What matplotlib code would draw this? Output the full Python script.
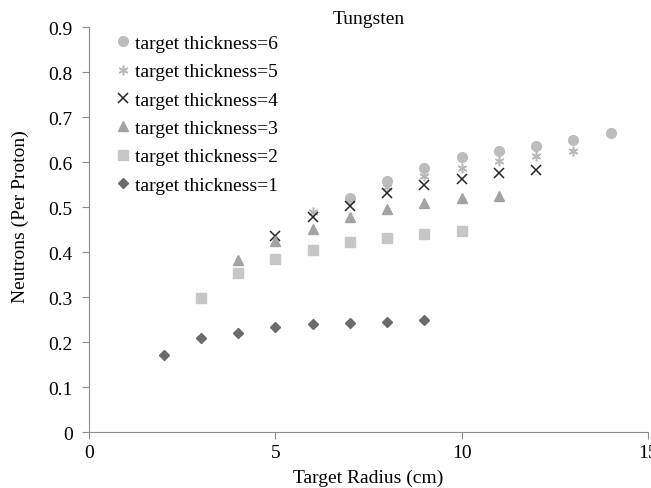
import matplotlib.pyplot as plt

plt.rcParams['font.family'] = ['Liberation Serif', 'DejaVu Serif']

# target radius (cm) and neutrons per proton, per target thickness
r1 = [2, 3, 4, 5, 6, 7, 8, 9]
n1 = [0.172, 0.209, 0.219, 0.233, 0.239, 0.242, 0.245, 0.248]
r2 = [3, 4, 5, 6, 7, 8, 9, 10]
n2 = [0.298, 0.354, 0.384, 0.405, 0.423, 0.432, 0.441, 0.446]
r3 = [4, 5, 6, 7, 8, 9, 10, 11]
n3 = [0.383, 0.425, 0.451, 0.478, 0.495, 0.508, 0.520, 0.525]
r4 = [5, 6, 7, 8, 9, 10, 11, 12]
n4 = [0.435, 0.478, 0.502, 0.531, 0.549, 0.563, 0.576, 0.583]
r5 = [6, 7, 8, 9, 10, 11, 12, 13]
n5 = [0.488, 0.515, 0.545, 0.569, 0.587, 0.602, 0.613, 0.625]
r6 = [7, 8, 9, 10, 11, 12, 13, 14]
n6 = [0.521, 0.558, 0.587, 0.611, 0.624, 0.636, 0.650, 0.664]

fig = plt.figure(figsize=(6.51, 4.89), dpi=100)
ax = fig.add_axes([0.137, 0.1145, 0.858, 0.828])

ax.plot(r6, n6, 'o', color='#bdbdbd', ms=7, label='target thickness=6')
ax.plot(r5, n5, ls='none', marker=(6, 2, 0), color='#b8b8b8', ms=7, mew=1.1, label='target thickness=5')
ax.plot(r4, n4, 'x', color='#262626', ms=7, mew=1.1, label='target thickness=4')
ax.plot(r3, n3, '^', color='#a3a3a3', ms=7, label='target thickness=3')
ax.plot(r2, n2, 's', color='#c6c6c6', ms=7, label='target thickness=2')
ax.plot(r1, n1, 'D', color='#6b6b6b', ms=5.5, label='target thickness=1')

ax.set_xlim(0, 15)
ax.set_ylim(0, 0.9)
ax.set_xticks([0, 5, 10, 15])
ax.set_yticks([i / 10 for i in range(10)])
ax.set_yticklabels(['0'] + ['%.1f' % (i / 10) for i in range(1, 10)])

for s in ['top', 'right']:
    ax.spines[s].set_visible(False)
for s in ['left', 'bottom']:
    ax.spines[s].set_color('#8c8c8c')
ax.tick_params(colors='#8c8c8c', labelcolor='black', labelsize=14, length=5)
ax.tick_params(axis='y', pad=7)

ax.set_xlabel('Target Radius (cm)', fontsize=14, labelpad=6)
ax.set_ylabel('Neutrons (Per Proton)', fontsize=14)
ax.yaxis.set_label_coords(-0.107, 0.535)
ax.set_title('Tungsten', fontsize=14, pad=-8)

ax.legend(loc='upper left', bbox_to_anchor=(0.015, 1.025), frameon=False,
          fontsize=14, handlelength=0.8, handletextpad=0.2, labelspacing=0.55)

fig.savefig('out.png')
